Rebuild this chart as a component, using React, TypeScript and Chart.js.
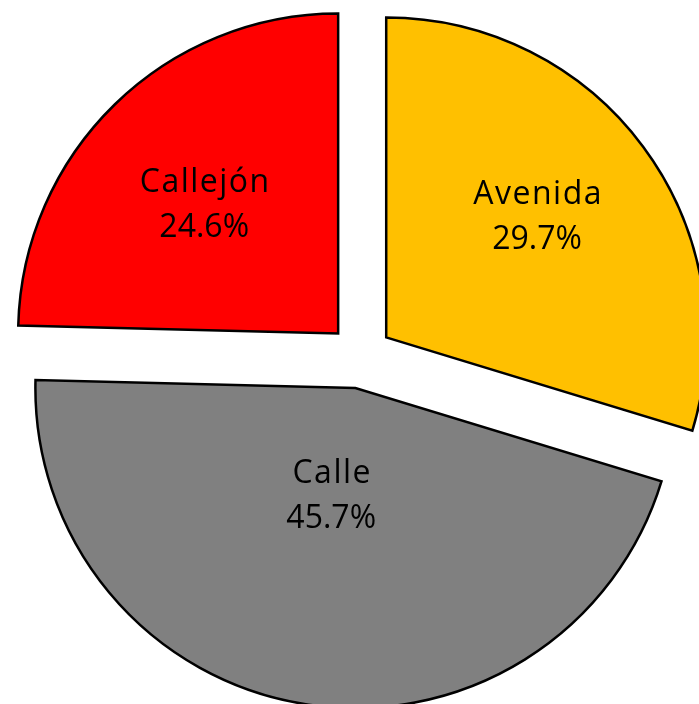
import { useEffect, useRef } from "react";
import { Chart, registerables } from "chart.js";

Chart.register(...registerables);

// ---- data ----
const categories = ["Avenida", "Calle", "Callejón"];
const values = [29.7, 45.7, 24.6];
const colors = ["#FFC000", "#808080", "#FF0000"];
// placement of each data label relative to its slice corner
const labelRadiusFraction = [0.603, 0.344, 0.581];
const labelAngleShiftDeg = [-2, 3.5, -1.8];

const EXPLODE = 32;
const RADIUS = 320;
const FONT = "32px 'Open Sans', 'Liberation Sans', sans-serif";

const explodePlugin = {
  id: "explodeSlices",
  beforeDatasetDraw(chart: any, args: any) {
    const ctx = chart.ctx;
    args.meta.data.forEach((arc: any) => {
      const mid = (arc.startAngle + arc.endAngle) / 2;
      ctx.save();
      ctx.translate(Math.cos(mid) * EXPLODE, Math.sin(mid) * EXPLODE);
      arc.draw(ctx);
      ctx.restore();
    });
    return false;
  },
  afterDatasetsDraw(chart: any) {
    const ctx = chart.ctx;
    const meta = chart.getDatasetMeta(0);
    const total = values.reduce((a, b) => a + b, 0);
    ctx.save();
    ctx.font = FONT;
    ctx.fillStyle = "#000000";
    ctx.textAlign = "center";
    ctx.textBaseline = "middle";
    meta.data.forEach((arc: any, i: number) => {
      const mid = (arc.startAngle + arc.endAngle) / 2;
      const cx = arc.x + Math.cos(mid) * EXPLODE;
      const cy = arc.y + Math.sin(mid) * EXPLODE;
      const a = mid + (labelAngleShiftDeg[i] * Math.PI) / 180;
      const r = arc.outerRadius * labelRadiusFraction[i];
      const x = cx + Math.cos(a) * r;
      const y = cy + Math.sin(a) * r;
      (ctx as any).letterSpacing = "1.5px";
      ctx.fillText(categories[i], x + 1, y - 22);
      (ctx as any).letterSpacing = "0px";
      ctx.fillText(((values[i] / total) * 100).toFixed(1) + "%", x, y + 23);
    });
    ctx.restore();
  },
};

export default function App() {
  const ref = useRef<HTMLCanvasElement | null>(null);
  useEffect(() => {
    if (!ref.current) return;
    const chart = new Chart(ref.current, {
      type: "pie",
      data: {
        labels: categories,
        datasets: [
          {
            data: values,
            backgroundColor: colors,
            borderColor: "#000000",
            borderWidth: 2.5,
            borderJoinStyle: "miter",
            offset: 0,
            hoverOffset: 0,
            radius: RADIUS,
          } as any,
        ],
      },
      options: {
        animation: false,
        responsive: false,
        events: [],
        layout: { padding: { left: 22, top: 9, right: 0, bottom: 0 } },
        plugins: {
          legend: { display: false },
          tooltip: { enabled: false },
        },
      },
      plugins: [explodePlugin],
    });
    return () => chart.destroy();
  }, []);
  return (
    <div
      style={{
        position: "fixed",
        left: 0,
        top: 0,
        width: 699,
        height: 704,
        overflow: "hidden",
        background: "#ffffff",
      }}
    >
      <canvas ref={ref} width={699} height={704} style={{ display: "block" }} />
    </div>
  );
}
